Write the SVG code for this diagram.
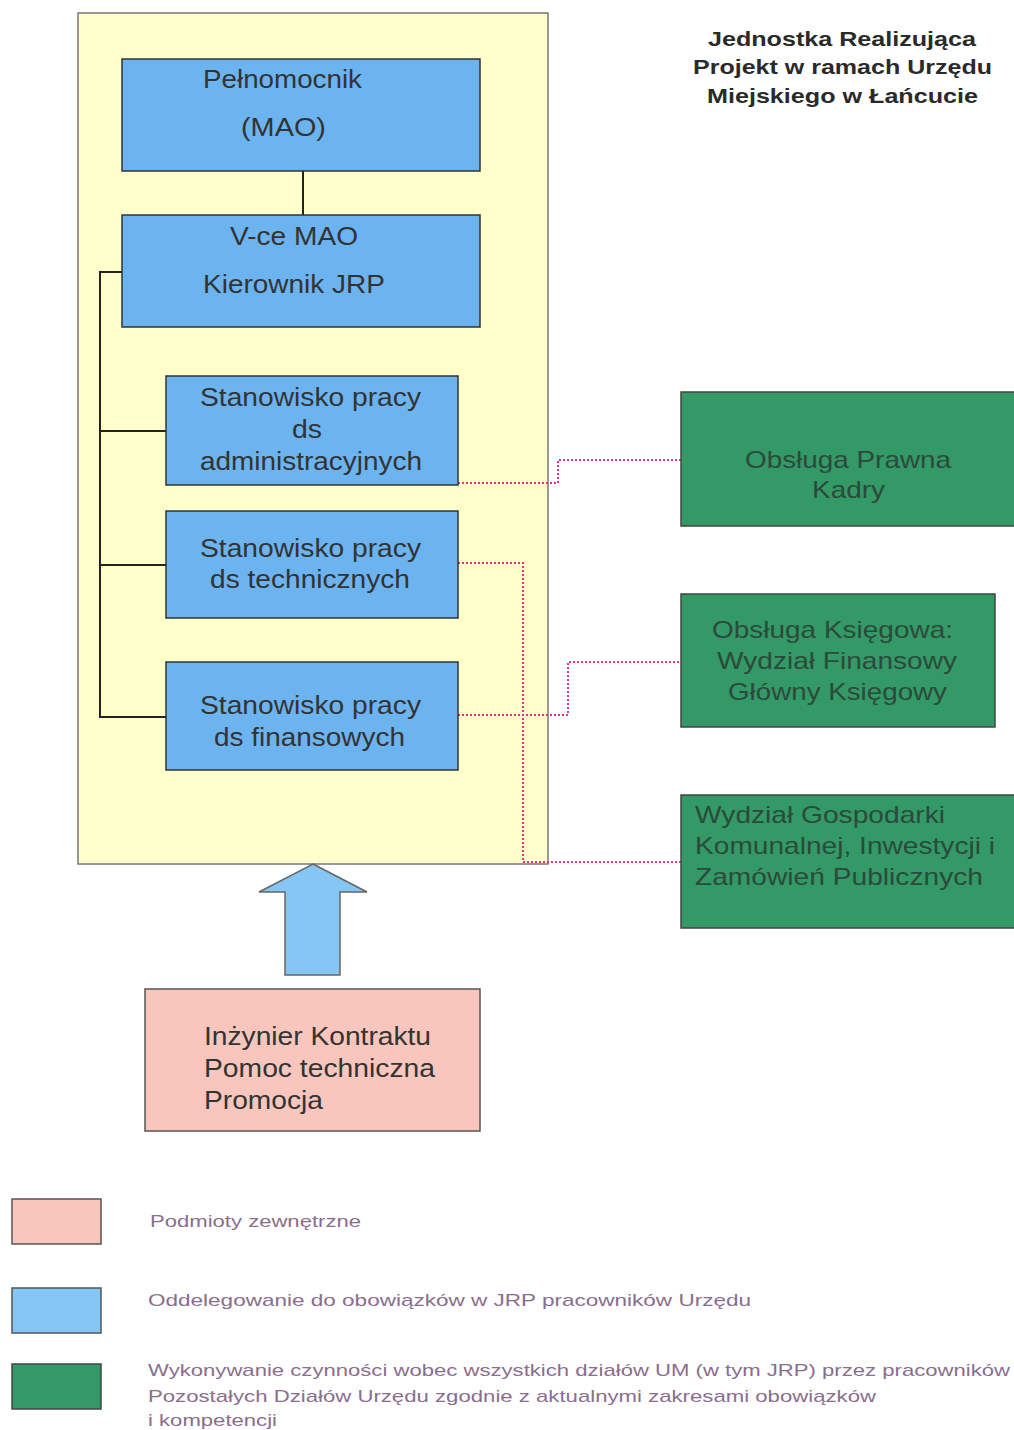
<svg xmlns="http://www.w3.org/2000/svg" width="1014" height="1430" viewBox="0 0 1014 1430">
<style>
.t{font-family:"Liberation Sans",Arial,sans-serif;font-size:25px;fill:#333}
.g{font-family:"Liberation Sans",Arial,sans-serif;font-size:24px;fill:#2c4a3c}
.h{font-family:"Liberation Sans",Arial,sans-serif;font-size:21px;font-weight:bold;fill:#2a2a2a}
.l{font-family:"Liberation Sans",Arial,sans-serif;font-size:17px;fill:#8a6e8e}
.blue{fill:#6cb4f0;stroke:#333;stroke-width:1.5}
.green{fill:#339966;stroke:#444;stroke-width:1.5}
.pink{fill:#f9c6bd;stroke:#555;stroke-width:1.5}
.solid{fill:none;stroke:#222;stroke-width:2}
.dot{fill:none;stroke:#e0308a;stroke-width:2;stroke-dasharray:2 2}
</style>
<rect width="1014" height="1430" fill="#fff"/>
<g id="container"><rect x="78" y="13" width="470" height="851" fill="#ffffcc" stroke="#777" stroke-width="1.5"/></g>
<g id="title">
<text class="h" x="708" y="46" textLength="268" lengthAdjust="spacingAndGlyphs">Jednostka Realizująca</text>
<text class="h" x="693" y="74" textLength="299" lengthAdjust="spacingAndGlyphs">Projekt w ramach Urzędu</text>
<text class="h" x="707" y="103" textLength="271" lengthAdjust="spacingAndGlyphs">Miejskiego w Łańcucie</text>
</g>
<g id="connectors">
<line class="solid" x1="303" y1="171" x2="303" y2="215"/>
<polyline class="solid" points="122,272 100,272 100,717 166,717"/>
<line class="solid" x1="100" y1="431" x2="166" y2="431"/>
<line class="solid" x1="100" y1="565" x2="166" y2="565"/>
<polyline class="dot" points="458,483 558,483 558,460 681,460"/>
<polyline class="dot" points="458,563 523,563 523,862 681,862"/>
<polyline class="dot" points="458,715 568,715 568,662 681,662"/>
<path d="M313,864 L367,892 L340,892 L340,975 L285,975 L285,892 L259,892 Z" fill="#85c6f5" stroke="#666" stroke-width="1.5"/>
</g>
<g id="pelnomocnik">
<rect class="blue" x="122" y="59" width="358" height="112"/>
<text class="t" x="203" y="88" textLength="159" lengthAdjust="spacingAndGlyphs">Pełnomocnik</text>
<text class="t" x="241" y="136" textLength="85" lengthAdjust="spacingAndGlyphs">(MAO)</text>
</g>
<g id="vce">
<rect class="blue" x="122" y="215" width="358" height="112"/>
<text class="t" x="230" y="245" textLength="128" lengthAdjust="spacingAndGlyphs">V-ce MAO</text>
<text class="t" x="203" y="293" textLength="182" lengthAdjust="spacingAndGlyphs">Kierownik JRP</text>
</g>
<g id="admin">
<rect class="blue" x="166" y="376" width="292" height="109"/>
<text class="t" x="200" y="406" textLength="221" lengthAdjust="spacingAndGlyphs">Stanowisko pracy</text>
<text class="t" x="292" y="438" textLength="30" lengthAdjust="spacingAndGlyphs">ds</text>
<text class="t" x="200" y="470" textLength="222" lengthAdjust="spacingAndGlyphs">administracyjnych</text>
</g>
<g id="tech">
<rect class="blue" x="166" y="511" width="292" height="107"/>
<text class="t" x="200" y="557" textLength="221" lengthAdjust="spacingAndGlyphs">Stanowisko pracy</text>
<text class="t" x="210" y="588" textLength="200" lengthAdjust="spacingAndGlyphs">ds technicznych</text>
</g>
<g id="fin">
<rect class="blue" x="166" y="662" width="292" height="108"/>
<text class="t" x="200" y="714" textLength="221" lengthAdjust="spacingAndGlyphs">Stanowisko pracy</text>
<text class="t" x="214" y="746" textLength="191" lengthAdjust="spacingAndGlyphs">ds finansowych</text>
</g>
<g id="prawna">
<rect class="green" x="681" y="392" width="340" height="134"/>
<text class="g" x="745" y="468" textLength="206" lengthAdjust="spacingAndGlyphs">Obsługa Prawna</text>
<text class="g" x="812" y="498" textLength="73" lengthAdjust="spacingAndGlyphs">Kadry</text>
</g>
<g id="ksiegowa">
<rect class="green" x="681" y="594" width="314" height="133"/>
<text class="g" x="712" y="638" textLength="241" lengthAdjust="spacingAndGlyphs">Obsługa Księgowa:</text>
<text class="g" x="717" y="669" textLength="240" lengthAdjust="spacingAndGlyphs">Wydział Finansowy</text>
<text class="g" x="728" y="700" textLength="219" lengthAdjust="spacingAndGlyphs">Główny Księgowy</text>
</g>
<g id="gospodarki">
<rect class="green" x="681" y="795" width="340" height="133"/>
<text class="g" x="695" y="823" textLength="250" lengthAdjust="spacingAndGlyphs">Wydział Gospodarki</text>
<text class="g" x="695" y="854" textLength="300" lengthAdjust="spacingAndGlyphs">Komunalnej, Inwestycji i</text>
<text class="g" x="695" y="885" textLength="288" lengthAdjust="spacingAndGlyphs">Zamówień Publicznych</text>
</g>
<g id="inzynier">
<rect class="pink" x="145" y="989" width="335" height="142"/>
<text class="t" x="204" y="1045" textLength="227" lengthAdjust="spacingAndGlyphs">Inżynier Kontraktu</text>
<text class="t" x="204" y="1077" textLength="231" lengthAdjust="spacingAndGlyphs">Pomoc techniczna</text>
<text class="t" x="204" y="1109" textLength="119" lengthAdjust="spacingAndGlyphs">Promocja</text>
</g>
<g id="legend">
<rect class="pink" x="12" y="1199" width="89" height="45"/>
<text class="l" x="150" y="1227" textLength="211" lengthAdjust="spacingAndGlyphs">Podmioty zewnętrzne</text>
<rect class="blue" x="12" y="1288" width="89" height="45" style="fill:#85c6f5;stroke:#555"/>
<text class="l" x="148" y="1306" textLength="603" lengthAdjust="spacingAndGlyphs">Oddelegowanie do obowiązków w  JRP pracowników  Urzędu</text>
<rect class="green" x="12" y="1364" width="89" height="45"/>
<text class="l" x="148" y="1376" textLength="862" lengthAdjust="spacingAndGlyphs">Wykonywanie czynności wobec wszystkich działów UM (w tym JRP) przez pracowników</text>
<text class="l" x="148" y="1402" textLength="728" lengthAdjust="spacingAndGlyphs">Pozostałych Działów Urzędu zgodnie z aktualnymi zakresami obowiązków</text>
<text class="l" x="148" y="1426" textLength="129" lengthAdjust="spacingAndGlyphs">i kompetencji</text>
</g>
</svg>
